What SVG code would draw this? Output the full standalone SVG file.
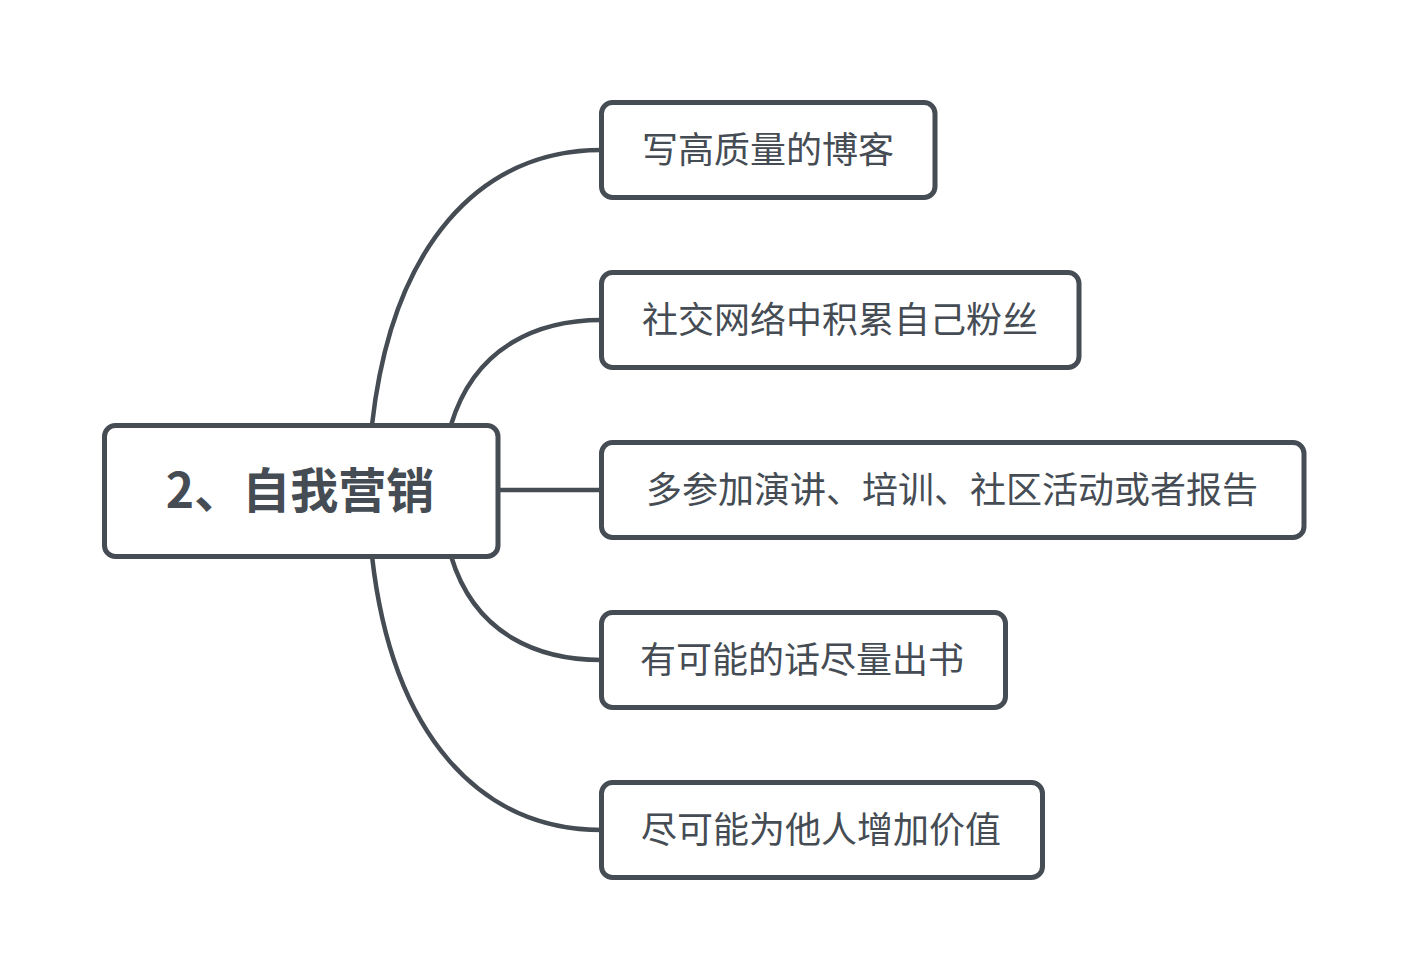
<svg xmlns="http://www.w3.org/2000/svg" width="1406" height="980" viewBox="0 0 1406 980">
<style>
.bg{fill:#ffffff}
.box{fill:#ffffff;stroke:#454c54;stroke-width:5}
.link{fill:none;stroke:#454c54;stroke-width:4.5}
.t{font-family:"Noto Sans CJK SC","Noto Sans",sans-serif;font-size:36px;fill:#454c54;text-anchor:middle}
.root{font-family:"Noto Sans CJK SC","Noto Sans",sans-serif;font-size:48px;font-weight:bold;fill:#454c54;text-anchor:middle}
</style>
<rect class="bg" x="0" y="0" width="1406" height="980"/>
<g id="connectors">
<path class="link" d="M372,425 C392,245 480,150 601.5,150"/>
<path class="link" d="M451,425 C475,345 540,320 601.5,320"/>
<path class="link" d="M498,490 L601.5,490"/>
<path class="link" d="M451,556 C475,636 540,660 601.5,660"/>
<path class="link" d="M372,556 C392,735 480,830 601.5,830"/>
</g>
<g id="root">
<rect class="box" x="104.5" y="425.5" width="393.5" height="131" rx="11"/>
<text class="root" x="300" y="507.5">2、自我营销</text>
</g>
<g id="node1">
<rect class="box" x="601.5" y="102.5" width="333.5" height="95" rx="11"/>
<text class="t" x="768" y="162.5">写高质量的博客</text>
</g>
<g id="node2">
<rect class="box" x="601.5" y="272.5" width="477.5" height="95" rx="11"/>
<text class="t" x="840" y="332.5">社交网络中积累自己粉丝</text>
</g>
<g id="node3">
<rect class="box" x="601.5" y="442.5" width="702.5" height="95" rx="11"/>
<text class="t" x="952" y="502.5">多参加演讲、培训、社区活动或者报告</text>
</g>
<g id="node4">
<rect class="box" x="601.5" y="612.5" width="404" height="95" rx="11"/>
<text class="t" x="802" y="672.5">有可能的话尽量出书</text>
</g>
<g id="node5">
<rect class="box" x="601.5" y="782.5" width="441" height="95" rx="11"/>
<text class="t" x="821" y="842.5">尽可能为他人增加价值</text>
</g>
</svg>
